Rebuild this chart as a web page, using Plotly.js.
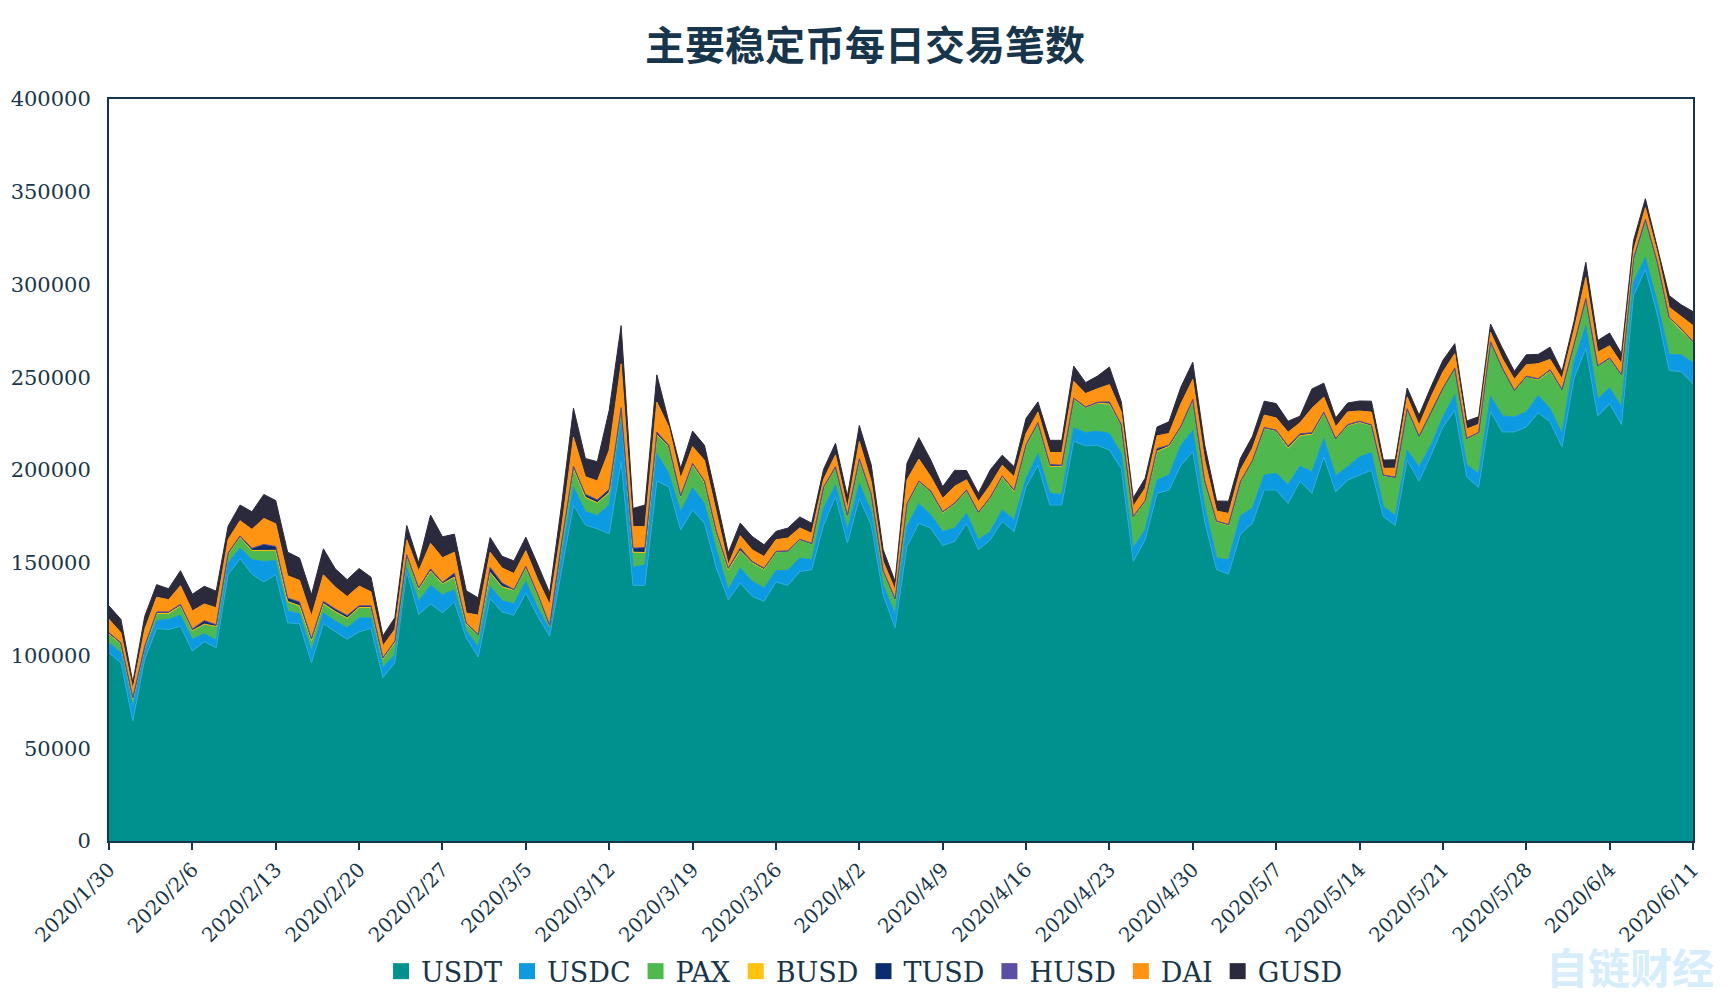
<!DOCTYPE html>
<html>
<head>
<meta charset="utf-8">
<script src="https://cdn.plot.ly/plotly-3.0.1.min.js"></script>
<style>html,body{margin:0;padding:0;background:#fff}#chart{width:1730px;height:1008px}</style>
</head>
<body>
<div id="chart"></div>
<script>
const dates = [
"2020/1/30","2020/1/31","2020/2/1","2020/2/2","2020/2/3","2020/2/4","2020/2/5","2020/2/6","2020/2/7","2020/2/8",
"2020/2/9","2020/2/10","2020/2/11","2020/2/12","2020/2/13","2020/2/14","2020/2/15","2020/2/16","2020/2/17","2020/2/18",
"2020/2/19","2020/2/20","2020/2/21","2020/2/22","2020/2/23","2020/2/24","2020/2/25","2020/2/26","2020/2/27","2020/2/28",
"2020/2/29","2020/3/1","2020/3/2","2020/3/3","2020/3/4","2020/3/5","2020/3/6","2020/3/7","2020/3/8","2020/3/9",
"2020/3/10","2020/3/11","2020/3/12","2020/3/13","2020/3/14","2020/3/15","2020/3/16","2020/3/17","2020/3/18","2020/3/19",
"2020/3/20","2020/3/21","2020/3/22","2020/3/23","2020/3/24","2020/3/25","2020/3/26","2020/3/27","2020/3/28","2020/3/29",
"2020/3/30","2020/3/31","2020/4/1","2020/4/2","2020/4/3","2020/4/4","2020/4/5","2020/4/6","2020/4/7","2020/4/8",
"2020/4/9","2020/4/10","2020/4/11","2020/4/12","2020/4/13","2020/4/14","2020/4/15","2020/4/16","2020/4/17","2020/4/18",
"2020/4/19","2020/4/20","2020/4/21","2020/4/22","2020/4/23","2020/4/24","2020/4/25","2020/4/26","2020/4/27","2020/4/28",
"2020/4/29","2020/4/30","2020/5/1","2020/5/2","2020/5/3","2020/5/4","2020/5/5","2020/5/6","2020/5/7","2020/5/8",
"2020/5/9","2020/5/10","2020/5/11","2020/5/12","2020/5/13","2020/5/14","2020/5/15","2020/5/16","2020/5/17","2020/5/18",
"2020/5/19","2020/5/20","2020/5/21","2020/5/22","2020/5/23","2020/5/24","2020/5/25","2020/5/26","2020/5/27","2020/5/28",
"2020/5/29","2020/5/30","2020/5/31","2020/6/1","2020/6/2","2020/6/3","2020/6/4","2020/6/5","2020/6/6","2020/6/7",
"2020/6/8","2020/6/9","2020/6/10","2020/6/11"];

const tickLabels = ["2020/1/30","2020/2/6","2020/2/13","2020/2/20","2020/2/27","2020/3/5","2020/3/12","2020/3/19","2020/3/26","2020/4/2",
"2020/4/9","2020/4/16","2020/4/23","2020/4/30","2020/5/7","2020/5/14","2020/5/21","2020/5/28","2020/6/4","2020/6/11"];

const USDT = [
101500,96100,64800,97900,114600,114000,115800,102400,107400,104200,
143600,152200,143900,139600,143600,117600,117100,96100,117100,112800,
108700,112800,114600,88100,96100,145300,122100,127800,123000,128900,
109500,99200,130700,123500,121700,133700,121200,110400,145300,181100,
170400,168300,165600,204400,137800,137800,194000,191000,167700,178500,
171300,147100,130100,139100,131900,129200,139600,137800,145300,146200,
170400,185600,160600,184700,170400,132800,114900,158800,171300,168600,
159300,161500,171300,157000,162400,172200,166800,191000,202600,181100,
181100,215500,213000,213400,210700,200800,150700,162400,187400,189200,
202600,209800,172200,146200,143900,165400,171300,189200,189200,182000,
194000,187400,207100,188300,194600,197300,199900,174900,170100,205300,
194000,208000,223200,232200,196400,190500,231600,220500,220500,223200,
230900,225900,212500,249200,265600,229100,235700,224500,293900,308200,
284100,253600,253100,246500];
const USDC = [
5400,5400,7200,4500,4300,5400,5900,6300,4300,4100,
6300,5700,7700,11100,7500,6300,5400,6300,5900,5700,
6300,7500,5700,5400,4500,1800,7200,10000,9800,6600,
3900,5400,6600,6100,6100,6300,4500,3600,8100,9800,
7200,7200,15600,21500,9700,11100,14900,7200,9800,12000,
10700,9800,5400,8100,8100,7200,6100,8100,7200,5400,
9000,6300,7200,8100,7200,5400,7200,10700,10700,7200,
7500,7200,5400,5400,4500,6300,6300,4500,6300,6300,
5700,7200,7200,7500,9000,8100,7200,5400,7200,8100,
10700,11600,8100,6300,7700,10000,8100,8100,9000,10200,
8100,11600,9800,8600,7200,9800,9500,5400,5400,5400,
7700,5400,5400,8400,6300,7700,8200,8600,8100,8100,
9300,7200,7200,9000,12200,9300,8600,9500,7200,6300,
6300,8600,9000,11300];
const PAX = [
4500,4500,4500,1800,3200,2700,4800,4500,5000,7200,
4500,5700,4800,5700,5400,5000,4100,5400,4800,5000,
5000,5400,5400,4500,6300,6300,6300,7500,5700,6600,
3200,6400,7200,7200,7200,7200,6800,1800,7200,9800,
7200,6600,6300,7200,7700,6300,9800,14300,8100,12200,
10700,9000,10400,9000,9800,9800,10000,10200,9800,8400,
10700,9300,7200,12500,9000,7200,8100,11600,11300,12500,
9800,12900,12000,14300,17900,17400,15200,17500,16100,14300,
14900,15400,13200,14900,15600,15200,16500,15200,15200,15200,
9800,16100,13400,19300,18400,17900,25100,25100,22700,19300,
16100,20000,13400,19700,22000,18400,14300,16600,20400,22000,
16100,17900,15200,14000,14000,21500,29000,25400,14000,18800,
8100,20000,23300,9000,14300,17500,15600,17000,12500,20200,
21500,19500,13100,10700];
const BUSD = [
200,200,200,300,800,800,300,200,200,200,
300,200,200,200,200,200,200,200,200,200,
200,200,200,200,200,200,200,300,200,200,
200,200,300,300,200,200,200,200,200,300,
500,300,500,100,500,300,300,200,200,200,
300,200,300,300,200,200,200,200,200,200,
200,200,200,200,200,200,200,300,300,200,
300,200,200,200,200,300,200,200,200,300,
300,200,200,200,300,100,200,200,300,300,
200,200,200,300,300,200,200,200,200,400,
400,300,300,100,200,200,400,100,100,200,
300,200,200,200,200,200,200,200,200,300,
400,400,300,200,200,200,300,200,200,200,
200,200,300,300];
const TUSD = [
600,600,600,500,500,500,700,800,1800,800,
500,600,1100,3200,2000,1800,2000,1100,1100,1300,
1300,800,800,600,600,600,600,1000,700,2000,
600,100,2600,1900,300,600,400,300,300,1000,
1500,1400,1500,300,2100,2600,1400,600,300,600,
1000,700,900,1400,600,600,100,100,100,200,
500,300,400,500,300,300,200,400,400,100,
500,300,300,300,300,600,600,500,300,900,
500,400,300,400,1000,200,300,300,1400,500,
300,300,300,300,300,300,300,300,300,900,
800,700,500,200,400,500,200,200,100,100,
100,100,100,100,100,300,100,100,100,100,
400,500,100,100,100,100,100,100,100,100,
100,300,600,400];
const HUSD = [
100,100,80,100,100,100,100,100,120,100,
100,100,100,120,100,100,100,80,100,100,
100,100,100,80,90,100,100,100,100,100,
90,80,100,100,100,100,100,90,100,120,
100,100,120,120,100,100,110,100,100,100,
100,100,90,100,100,100,100,100,100,100,
110,120,100,120,110,90,80,100,110,110,
100,100,110,100,100,110,100,120,120,100,
100,120,120,120,120,110,80,90,100,100,
110,120,100,80,80,90,100,110,110,100,
110,100,110,100,100,110,110,90,90,110,
100,110,120,120,100,100,120,120,110,110,
120,120,110,120,130,110,110,110,130,140,
130,120,120,110];
const DAI = [
7200,5400,4500,9000,7900,6600,10000,9700,9000,9100,
7200,8200,10200,14000,12200,12000,11600,12000,14300,11800,
10200,10600,7500,6300,6300,8100,9000,13800,13200,11300,
5400,10400,8200,8100,8600,8400,7700,11100,7500,15600,
9500,10200,21100,23600,11600,11300,16100,9800,9300,9000,
11100,10600,1800,6600,6300,6300,6300,6800,6100,5400,
4100,6300,3900,9300,6600,4800,4800,12700,11800,7700,
7200,9000,5400,5700,6600,5700,7200,5900,5700,6400,
6800,9000,7200,7300,9300,6800,5400,6600,6800,6300,
12000,10700,11100,5400,5900,6100,6600,6600,6600,7500,
5900,13200,8100,6300,6800,5500,6800,3600,4800,6300,
5900,7700,8600,7700,5000,4300,5000,5000,5900,6100,
8100,5500,5700,7700,11300,7200,6600,5900,4100,6300,
5000,5400,6800,8600];
const GUSD = [
7200,7200,3600,7000,6800,5900,8100,9000,9500,9000,
7200,8400,9500,12900,12500,12700,12000,11600,14000,9800,
9100,9500,7900,5400,6300,7700,4500,15200,11300,9700,
12000,9300,7900,6300,6800,7300,8100,6300,12500,15600,
9800,10400,21500,20600,9800,11600,14700,3600,5400,8400,
8100,7200,6300,6800,7200,6300,4500,5400,5900,5400,
5400,6300,6300,8600,9000,6300,4500,9000,11500,9000,
6300,8600,5000,4500,8100,5400,5400,8100,5400,6600,
6600,8200,5900,6800,9500,5400,4500,5400,4800,6300,
9000,9300,8100,5400,6600,6300,6300,7500,7700,5900,
3600,10400,7500,4800,4800,5400,5900,4500,4500,4800,
5400,5400,6300,5400,4300,4100,4500,5700,4300,5400,
5000,6600,3900,4500,8100,6300,6800,5400,5400,4800,
3600,6300,6100,7500];

const names = ["USDT","USDC","PAX","BUSD","TUSD","HUSD","DAI","GUSD"];
const seriesValues = [USDT,USDC,PAX,BUSD,TUSD,HUSD,DAI,GUSD];
const colors = ["#00918f","#0c9ae2","#4fb84f","#ffc20e","#0b2c6e","#5a4ea5","#ff9412","#2a2a3c"];
const edgeColors = ["#2aa8dc","#0c9ae2","#4fb84f","#ffc20e","#0b2c6e","#5a4ea5","#ff9412","#2a2a3c"];
const ink = "#17364b";

const traces = names.map((n,i)=>({
  type:"scatter", mode:"lines", name:n, x:dates, y:seriesValues[i],
  stackgroup:"one", fillcolor:colors[i], showlegend:false,
  line:{color:edgeColors[i], width:1, shape:"linear"}, hoverinfo:"x+y+name"
}));
const legendProxies = names.map((n,i)=>({
  type:"scatter", mode:"markers", name:n, x:[null], y:[null],
  marker:{symbol:"square", size:18, color:colors[i]}, hoverinfo:"skip"
}));

const layout = {
  width:1730, height:1008, autosize:false,
  paper_bgcolor:"#fff", plot_bgcolor:"#fff",
  margin:{l:109,r:37,t:99,b:165,pad:0},
  font:{family:'"DejaVu Serif","Noto Sans CJK SC",serif', color:ink, size:20},
  title:{text:"主要稳定币每日交易笔数", x:0.5, xref:"container", xanchor:"center",
         y:0.954, yref:"container", yanchor:"middle",
         font:{family:'"DejaVu Serif","Noto Sans CJK SC",serif', size:40, color:ink, weight:"bold"}},
  xaxis:{type:"category", categoryorder:"array", categoryarray:dates, range:[0,133],
         tickmode:"array", tickvals:tickLabels, ticktext:tickLabels, tickangle:-45,
         ticks:"outside", ticklen:7, tickwidth:2, tickcolor:ink,
         showgrid:false, zeroline:false, showline:true, linecolor:ink, linewidth:2, mirror:true,
         tickfont:{size:20,color:ink}, automargin:false},
  yaxis:{range:[0,400000], tickmode:"linear", tick0:0, dtick:50000, tickformat:"d",
         ticks:"", ticklabelstandoff:12, showgrid:false, zeroline:false,
         showline:true, linecolor:ink, linewidth:2, mirror:true,
         tickfont:{size:21,color:ink}, automargin:false},
  legend:{orientation:"h", x:0.477, xanchor:"center", y:-0.176, yanchor:"middle",
          font:{size:27,color:ink}, itemsizing:"trace", bgcolor:"rgba(0,0,0,0)", traceorder:"normal", entrywidth:0},
  annotations:[{text:"自链财经", xref:"paper", yref:"paper", x:(1630-109)/1584, y:(843-968)/744,
                xanchor:"center", yanchor:"middle", showarrow:false,
                font:{family:'"Noto Sans CJK SC",sans-serif', size:42, color:"#d6edfb", weight:"bold"}}]
};
Plotly.newPlot("chart", traces.concat(legendProxies), layout, {displayModeBar:false, staticPlot:true});
</script>
</body>
</html>
